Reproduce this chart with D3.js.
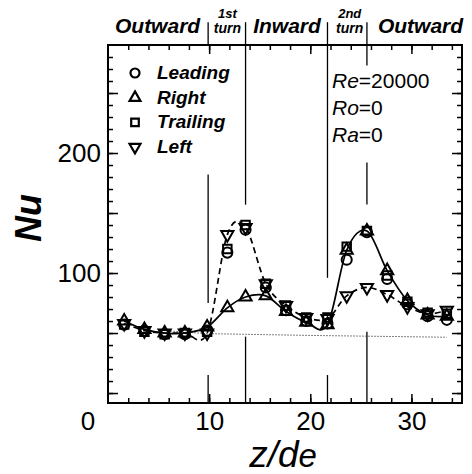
<!DOCTYPE html>
<html>
<head>
<meta charset="utf-8">
<script src="https://d3js.org/d3.v7.min.js"></script>
<style>
  body { margin: 0; background: #fff; }
  text { font-family: "Liberation Sans", Arial, sans-serif; fill: #000; }
</style>
</head>
<body>
<svg id="chart" width="472" height="474"></svg>
<script>
// measurement stations along the duct (z/de)
var zPos     = [1.6, 3.6, 5.6, 7.6, 9.8, 11.8, 13.6, 15.6, 17.6, 19.6, 21.7, 23.6, 25.6, 27.6, 29.6, 31.6, 33.5];
var leading  = [57, 52, 49, 49, 52, 117, 136, 88, 69, 60, 58, 111, 134, 95, 74, 64, 61];
var right    = [60, 53, 50, 50, 55, 71, 80, 81, 68, 59, 57, 119, 135, 102, 77, 65, 64];
var trailing = [57, 51, 49, 50, 51, 120, 140, 91, 73, 63, 63, 122, 135, 98, 76, 67, 66];
var left     = [58, 52, 50, 50, 50, 132, 138, 91, 73, 63, 62, 81, 88, 82, 72, 66, 69];

// smooth-duct reference (dotted)
var refZ  = [5.6, 9.8, 20, 33.5];
var refNu = [52, 49.5, 48, 46.5];

// turn boundaries: visible pieces of each boundary line [z, NuTop, NuBottom]
var edgePieces = [
  [9.9, 309, 290], [9.9, 182, 75], [9.9, 15, -8.3],
  [13.6, 309, 157], [13.6, 47, -8.3],
  [21.7, 309, 96], [21.7, 15, -8.3],
  [25.6, 309, 273], [25.6, 192, 157], [25.6, 51, -8.3]
];

var sectionNames = ["Outward", "Inward", "Outward"];
var sectionMid   = [4.9, 17.7, 30.9];
var turnNames    = ["1st", "2nd"];
var turnMid      = [11.8, 23.9];

var xLabels = [10, 20, 30];
var yLabels = [100, 200];
var conditions = [["Re", "=20000"], ["Ro", "=0"], ["Ra", "=0"]];

var svg = d3.select("#chart");
var x = d3.scaleLinear().domain([0, 35]).range([108, 462]);
var y = d3.scaleLinear().domain([-8.3, 290]).range([403, 45]);

var series = [
  {name: "Leading", vals: leading, sym: d3.symbolCircle, size: 80, rot: 0},
  {name: "Right", vals: right, sym: d3.symbolTriangle, size: 64, rot: 0},
  {name: "Trailing", vals: trailing, sym: d3.symbolSquare, size: 72, rot: 0},
  {name: "Left", vals: left, sym: d3.symbolTriangle, size: 64, rot: 180}
];

// ticks
var xMinor = d3.range(2, 35, 2), xMajor = [10, 20, 30];
var yMinor = d3.range(0, 290, 10), yMajor = d3.range(0, 290, 50);

function noDomain(g) { g.select(".domain").remove(); }

svg.append("g").attr("transform", "translate(0," + y(-8.3) + ")")
  .call(d3.axisBottom(x).tickValues(xMinor).tickSize(-5).tickFormat("")).call(noDomain);
svg.append("g").attr("transform", "translate(0," + y(-8.3) + ")")
  .call(d3.axisBottom(x).tickValues(xMajor).tickSize(-9).tickFormat("")).call(noDomain);
svg.append("g").attr("transform", "translate(0," + y(290) + ")")
  .call(d3.axisTop(x).tickValues(xMinor).tickSize(-5).tickFormat("")).call(noDomain);
svg.append("g").attr("transform", "translate(0," + y(290) + ")")
  .call(d3.axisTop(x).tickValues(xMajor).tickSize(-9).tickFormat("")).call(noDomain);
svg.append("g").attr("transform", "translate(" + x(0) + ",0)")
  .call(d3.axisLeft(y).tickValues(yMinor).tickSize(-5).tickFormat("")).call(noDomain);
svg.append("g").attr("transform", "translate(" + x(0) + ",0)")
  .call(d3.axisLeft(y).tickValues(yMajor).tickSize(-10).tickFormat("")).call(noDomain);
svg.append("g").attr("transform", "translate(" + x(35) + ",0)")
  .call(d3.axisRight(y).tickValues(yMinor).tickSize(-5).tickFormat("")).call(noDomain);
svg.append("g").attr("transform", "translate(" + x(35) + ",0)")
  .call(d3.axisRight(y).tickValues(yMajor).tickSize(-10).tickFormat("")).call(noDomain);
svg.selectAll(".tick line").attr("stroke", "#000").attr("stroke-width", 1.5);

// tick labels
var xl = svg.append("g").attr("transform", "translate(0," + y(-8.3) + ")")
  .call(d3.axisBottom(x).tickValues(xLabels).tickSize(0).tickPadding(9));
xl.call(noDomain);
xl.selectAll("text").attr("font-size", 26).style("font-family", "Liberation Sans, Arial, sans-serif");
svg.append("text").attr("x", x(0) - 20).attr("y", y(-8.3) + 27)
  .attr("text-anchor", "middle").attr("font-size", 26).text("0");

var yl = svg.append("g").attr("transform", "translate(" + x(0) + ",0)")
  .call(d3.axisLeft(y).tickValues(yLabels).tickSize(0).tickPadding(7));
yl.call(noDomain);
yl.selectAll("text").attr("font-size", 26).style("font-family", "Liberation Sans, Arial, sans-serif");

// frame
svg.append("rect").attr("x", x(0)).attr("y", y(290))
  .attr("width", x(35) - x(0)).attr("height", y(-8.3) - y(290))
  .attr("fill", "none").attr("stroke", "#000").attr("stroke-width", 2);

// turn boundary lines
svg.append("g").selectAll("line").data(edgePieces).join("line")
  .attr("x1", d => x(d[0])).attr("x2", d => x(d[0]))
  .attr("y1", d => y(d[1])).attr("y2", d => y(d[2]))
  .attr("stroke", "#000").attr("stroke-width", 1.3);

// section labels above plot
svg.append("g").selectAll("text").data(sectionNames).join("text")
  .attr("x", (d, i) => x(sectionMid[i])).attr("y", 33)
  .attr("text-anchor", "middle").attr("font-size", 21)
  .attr("font-weight", "bold").attr("font-style", "italic").text(d => d);
svg.append("g").selectAll("text").data(turnNames).join("text")
  .attr("x", (d, i) => x(turnMid[i])).attr("y", 18)
  .attr("text-anchor", "middle").attr("font-size", 13)
  .attr("font-weight", "bold").attr("font-style", "italic").text(d => d);
svg.append("g").selectAll("text").data(turnNames).join("text")
  .attr("x", (d, i) => x(turnMid[i])).attr("y", 33)
  .attr("text-anchor", "middle").attr("font-size", 14)
  .attr("font-weight", "bold").attr("font-style", "italic").text("turn");

// reference line
svg.append("path")
  .attr("d", d3.line().x((d, i) => x(refZ[i])).y(d => y(d))(refNu))
  .attr("fill", "none").attr("stroke", "#000").attr("stroke-width", 1).attr("stroke-dasharray", "1,2");

// fitted curves: solid through Right, dashed through Left
var curve = d3.line().x((d, i) => x(zPos[i])).y(d => y(d)).curve(d3.curveCatmullRom.alpha(0));
svg.append("path").attr("d", curve(right)).attr("fill", "none")
  .attr("stroke", "#000").attr("stroke-width", 1.7);
svg.append("path").attr("d", curve(left)).attr("fill", "none")
  .attr("stroke", "#000").attr("stroke-width", 1.7).attr("stroke-dasharray", "6,4");

// markers
series.forEach(function(s) {
  svg.append("g").selectAll("path").data(s.vals).join("path")
    .attr("d", d3.symbol().type(s.sym).size(s.size))
    .attr("transform", (d, i) => "translate(" + x(zPos[i]) + "," + y(d) + ") rotate(" + s.rot + ")")
    .attr("fill", "none").attr("stroke", "#000").attr("stroke-width", 2);
});

// legend
var lg = svg.append("g").selectAll("g").data(series).join("g")
  .attr("transform", (d, i) => "translate(135," + (73 + i * 24.7) + ")");
lg.append("path")
  .attr("d", d => d3.symbol().type(d.sym).size(d.size * 0.8)())
  .attr("transform", d => "rotate(" + d.rot + ")")
  .attr("fill", "none").attr("stroke", "#000").attr("stroke-width", 2.2);
lg.append("text").attr("x", 22).attr("y", 6).attr("font-size", 19)
  .attr("font-weight", "bold").attr("font-style", "italic").text(d => d.name);

// conditions
var ct = svg.append("g").selectAll("text").data(conditions).join("text")
  .attr("x", 332).attr("y", (d, i) => 88 + i * 27).attr("font-size", 21);
ct.append("tspan").attr("font-style", "italic").text(d => d[0]);
ct.append("tspan").text(d => d[1]);

// axis titles
svg.append("text").attr("transform", "translate(41,218) rotate(-90)")
  .attr("text-anchor", "middle").attr("font-size", 36)
  .attr("font-weight", "bold").attr("font-style", "italic").text("Nu");
var xt = svg.append("text").attr("x", 283).attr("y", 467)
  .attr("text-anchor", "middle").attr("font-size", 37).attr("font-style", "italic");
xt.append("tspan").text("z/d");
xt.append("tspan").attr("font-size", 33).text("e");
</script>
</body>
</html>
